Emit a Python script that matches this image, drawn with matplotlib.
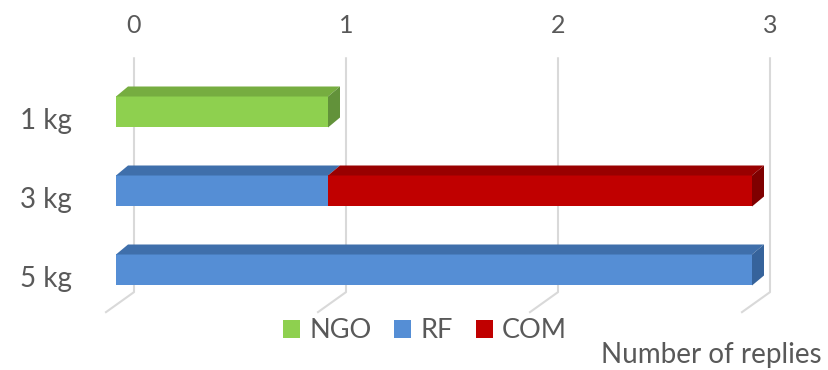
import matplotlib.pyplot as plt
from matplotlib.patches import Polygon, Patch

plt.rcParams['font.family'] = ['Lato', 'DejaVu Sans']

# данные
categories = ["1 kg", "3 kg", "5 kg"]
series = ["NGO", "RF", "COM"]
ngo = [1, 0, 0]
rf = [0, 1, 3]
com = [0, 2, 0]
ticks = [0, 1, 2, 3]

front = {"NGO": "#8ED04F", "RF": "#558ED5", "COM": "#C00000"}
top = {"NGO": "#76AD40", "RF": "#3F6FAB", "COM": "#990000"}
side = {"NGO": "#62923A", "RF": "#36639B", "COM": "#7F0000"}
TXT = "#595959"
GRID = "#D9D9D9"

W, H = 829, 370
fig = plt.figure(figsize=(W / 100, H / 100), dpi=100)

# оси в пикселях: 0 -> x=116, 212 px на единицу
px_per_x = 212.0
px_per_y = 79.0
x_lo, x_hi = -0.1, 3.25
y_top, y_bot = -0.9, 2.6
left = 116 + x_lo * px_per_x
ax = fig.add_axes([left / W, 1 - (112 + y_bot * px_per_y) / H,
                   (x_hi - x_lo) * px_per_x / W, (y_bot - y_top) * px_per_y / H])
ax.set_xlim(x_lo, x_hi)
ax.set_ylim(y_bot, y_top)
ax.axis("off")

# смещения "3D"
dx, dy = 12 / px_per_x, -10 / px_per_y
wall = 18 / px_per_x
bh = 31 / px_per_y

# сетка на задней стенке + линии пола
for v in ticks:
    gx = v + wall
    ax.plot([gx, gx, gx - 28 / px_per_x], [-0.68, 2.28, 2.28 + 20 / px_per_y],
            color=GRID, lw=1.5, zorder=0, clip_on=False)
    ax.text(gx, -1.1, str(v), ha="center", va="center", fontsize=18,
            color=TXT, clip_on=False)

# столбцы
data = {"NGO": ngo, "RF": rf, "COM": com}
for i, cat in enumerate(categories):
    start = 0
    segs = [(s, data[s][i]) for s in series if data[s][i] > 0]
    for k, (s, val) in enumerate(segs):
        ax.barh(i, val, left=start, height=bh, color=front[s], zorder=2)
        y0 = i - bh / 2
        x1 = start + val
        ax.add_patch(Polygon([(start, y0), (x1, y0), (x1 + dx, y0 + dy),
                              (start + dx, y0 + dy)], closed=True,
                             facecolor=top[s], edgecolor="none", zorder=3))
        if k == len(segs) - 1:
            ax.add_patch(Polygon([(x1, y0), (x1 + dx, y0 + dy),
                                  (x1 + dx, i + bh / 2 + dy), (x1, i + bh / 2)],
                                 closed=True, facecolor=side[s],
                                 edgecolor="none", zorder=3))
        start = x1
    ax.text(-0.21, i + 9 / px_per_y, cat, ha="right", va="center",
            fontsize=20, color=TXT, clip_on=False)

handles = [Patch(facecolor=front[s], edgecolor="none") for s in series]
fig.legend(handles, series, loc="center", bbox_to_anchor=(425 / W, 1 - 331 / H),
           ncol=3, frameon=False, fontsize=19.5, labelcolor=TXT,
           handlelength=0.62, handleheight=0.62, handletextpad=0.35,
           columnspacing=0.85)

fig.text(822 / W, 1 - 355 / H, "Number of replies", ha="right", va="center",
         fontsize=20, color=TXT)

fig.savefig("out.png", dpi=100)
